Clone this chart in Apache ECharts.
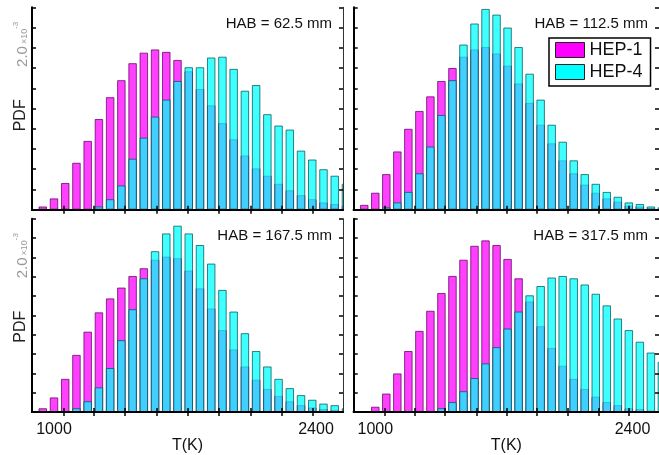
<!DOCTYPE html>
<html>
<head>
<meta charset="utf-8">
<script src="https://cdn.jsdelivr.net/npm/echarts@6/dist/echarts.min.js"></script>
<style>
  html, body { margin: 0; padding: 0; background: #fff; }
  #chart { width: 659px; height: 455px; }
</style>
</head>
<body>
<div id="chart"></div>
<script>
// bin centres, K
var binCenters = [940, 1000, 1060, 1120, 1180, 1240, 1300, 1360, 1420, 1480, 1540, 1600, 1660, 1720,
  1780, 1840, 1900, 1960, 2020, 2080, 2140, 2200, 2260, 2320, 2380, 2440, 2500, 2560];
var xTickValues = [1050, 1215, 1380, 1550, 1715, 1880, 2050, 2215, 2380];
var xLabelValues = [1000, 2400];
var panelTitles = ['HAB = 62.5 mm', 'HAB = 112.5 mm', 'HAB = 167.5 mm', 'HAB = 317.5 mm'];

// PDF values, x1e-3
var hep1_62 = [0.04, 0.14, 0.33, 0.58, 0.85, 1.12, 1.39, 1.60, 1.81, 1.94, 1.98, 1.95, 1.85, 1.71,
  1.49, 1.29, 1.07, 0.87, 0.67, 0.51, 0.42, 0.32, 0.24, 0.18, 0.13, 0.09, 0.07, 0.05];
var hep4_62 = [0, 0, 0, 0, 0, 0.04, 0.13, 0.30, 0.63, 0.89, 1.15, 1.36, 1.59, 1.76,
  1.76, 1.88, 1.89, 1.74, 1.47, 1.54, 1.18, 1.04, 0.99, 0.73, 0.62, 0.50, 0.42, 0.32];
var hep1_112 = [0.06, 0.21, 0.44, 0.72, 1.00, 1.22, 1.40, 1.59, 1.75, 1.89, 1.98, 2.01, 1.93, 1.78,
  1.56, 1.32, 1.05, 0.82, 0.61, 0.45, 0.31, 0.21, 0.14, 0.10, 0.05, 0.04, 0.02, 0.01];
var hep4_112 = [0, 0, 0.03, 0.09, 0.22, 0.45, 0.78, 1.17, 1.60, 2.04, 2.30, 2.48, 2.41, 2.25,
  2.01, 1.68, 1.36, 1.05, 0.84, 0.61, 0.44, 0.32, 0.22, 0.16, 0.09, 0.07, 0.04, 0.03];
var hep1_167 = [0.05, 0.19, 0.43, 0.74, 1.04, 1.29, 1.47, 1.61, 1.76, 1.86, 1.97, 2.01, 1.99, 1.83,
  1.60, 1.34, 1.06, 0.81, 0.59, 0.42, 0.30, 0.21, 0.14, 0.09, 0.06, 0.04, 0.03, 0.02];
var hep4_167 = [0, 0, 0, 0.05, 0.14, 0.32, 0.57, 0.93, 1.33, 1.73, 2.08, 2.31, 2.41, 2.31,
  2.16, 1.92, 1.58, 1.30, 1.02, 0.79, 0.59, 0.43, 0.31, 0.22, 0.16, 0.11, 0.09, 0.05];
var hep1_317 = [0, 0.07, 0.24, 0.50, 0.79, 1.05, 1.31, 1.54, 1.76, 1.97, 2.15, 2.22, 2.16, 1.98,
  1.73, 1.43, 1.11, 0.83, 0.60, 0.43, 0.30, 0.20, 0.13, 0.09, 0.05, 0.04, 0.02, 0.01];
var hep4_317 = [0, 0, 0, 0, 0, 0, 0, 0.05, 0.13, 0.27, 0.44, 0.63, 0.84, 1.08,
  1.30, 1.51, 1.63, 1.74, 1.76, 1.73, 1.65, 1.53, 1.38, 1.21, 1.06, 0.91, 0.77, 0.65];

var panels = [
  {hep1: hep1_62, hep4: hep4_62},
  {hep1: hep1_112, hep4: hep4_112},
  {hep1: hep1_167, hep4: hep4_167},
  {hep1: hep1_317, hep4: hep4_317}
];

var FONT = "'Liberation Sans', Arial, sans-serif";
var xMin = 882.5, xMax = 2544.2;
var gridPos = [
  {left: 32, top: 7.3},
  {left: 353.7, top: 7.3},
  {left: 32, top: 218.7},
  {left: 353.7, top: 218.7}
];

function pairs(vals){
  return binCenters.map(function(c, i){ return [c, vals[i]]; });
}

var grids = [], xAxes = [], yAxes = [], series = [], graphics = [];
gridPos.forEach(function(g, i){
  grids.push({left: g.left, top: g.top, width: 311, height: 202.4, show: false});
  var bottomRow = i >= 2;
  // bottom x
  xAxes.push({
    gridIndex: i, type: 'value', position: 'bottom', min: xMin, max: xMax, z: 5,
    axisLine: {lineStyle: {color: '#000', width: 2}},
    axisTick: {inside: true, length: 4, customValues: xTickValues, lineStyle: {color: '#000', width: 1.5}},
    axisLabel: {show: bottomRow, customValues: xLabelValues, margin: 9, fontSize: 16, color: '#111', fontFamily: FONT,
      formatter: function(v){ return String(v); }},
    splitLine: {show: false},
    name: bottomRow ? 'T(K)' : '', nameLocation: 'middle', nameGap: 9,
    nameTextStyle: {fontSize: 16, color: '#111', fontFamily: FONT, verticalAlign: 'top'}
  });
  // top x
  xAxes.push({
    gridIndex: i, type: 'value', position: 'top', min: xMin, max: xMax, z: 5,
    axisLine: {lineStyle: {color: '#000', width: 2}},
    axisTick: {inside: true, length: 4, customValues: xTickValues, lineStyle: {color: '#000', width: 1.5}},
    axisLabel: {show: false}, splitLine: {show: false}
  });
  yAxes.push({
    gridIndex: i, type: 'value', position: 'left', min: 0, max: 2.5, interval: 0.25, z: 5,
    axisLine: {show: true, lineStyle: {color: '#000', width: 2}},
    axisTick: {show: true, inside: true, length: 4, lineStyle: {color: '#000', width: 1.5}},
    axisLabel: {show: false}, splitLine: {show: false}
  });
  yAxes.push({
    gridIndex: i, type: 'value', position: 'right', min: 0, max: 2.5, interval: 0.25, z: 5,
    axisLine: {show: true, lineStyle: {color: '#333', width: 1}},
    axisTick: {show: true, inside: true, length: 4, lineStyle: {color: '#000', width: 1.5}},
    axisLabel: {show: false}, splitLine: {show: false}
  });
  series.push({
    name: 'HEP-1', type: 'bar', xAxisIndex: 2 * i, yAxisIndex: 2 * i, clip: true,
    barWidth: 8.5, barGap: '-100%', data: pairs(panels[i].hep1),
    itemStyle: {color: '#ff00ff', opacity: 0.75, borderColor: '#600060', borderWidth: 1},
    emphasis: {disabled: true}
  });
  series.push({
    name: 'HEP-4', type: 'bar', xAxisIndex: 2 * i, yAxisIndex: 2 * i, clip: true,
    barWidth: 8.5, barGap: '-100%', data: pairs(panels[i].hep4),
    itemStyle: {color: '#00ffff', opacity: 0.75, borderColor: '#005858', borderWidth: 1},
    emphasis: {disabled: true}
  });
  var right = i % 2 === 0 ? 332 : 648;
  graphics.push({
    type: 'text', x: right, y: g.top + 17, z: 10,
    style: {text: panelTitles[i], fill: '#111', font: '15px ' + FONT, align: 'right', verticalAlign: 'middle'}
  });
  if (i % 2 === 0) {
    // gap between columns: hide the bar that runs past the right border
    graphics.push({
      type: 'rect', z: 3, shape: {x: 344, y: g.top - 2, width: 8.5, height: 206},
      style: {fill: '#fff'}
    });
    graphics.push({
      type: 'text', x: 21, y: g.top + 108, rotation: Math.PI / 2, z: 10,
      style: {text: 'PDF', fill: '#222', font: '16px ' + FONT, align: 'center', verticalAlign: 'middle'}
    });
    graphics.push({
      type: 'text', x: 21, y: g.top + 37, rotation: Math.PI / 2, z: 10,
      style: {
        text: '{a|2.0}{b|×10}{c|-3}', align: 'center', verticalAlign: 'middle',
        rich: {
          a: {fontSize: 15, fontFamily: FONT, fill: '#999', lineHeight: 18, verticalAlign: 'bottom'},
          b: {fontSize: 9, fontFamily: FONT, fill: '#999', lineHeight: 18, verticalAlign: 'bottom', padding: [0, 0, 1, 2]},
          c: {fontSize: 8, fontFamily: FONT, fill: '#999', lineHeight: 18, verticalAlign: 'top'}
        }
      }
    });
  }
});

var chart = echarts.init(document.getElementById('chart'), null, {renderer: 'canvas'});
chart.setOption({
  animation: false,
  backgroundColor: '#fff',
  grid: grids,
  xAxis: xAxes,
  yAxis: yAxes,
  legend: {
    orient: 'vertical', left: 549, top: 38,
    padding: [3, 8, 5, 6], itemGap: 4, itemWidth: 29, itemHeight: 15,
    backgroundColor: '#fff', borderColor: '#000', borderWidth: 1.5,
    itemStyle: {opacity: 1, borderColor: '#222', borderWidth: 1},
    textStyle: {fontSize: 18, color: '#111', fontFamily: FONT, padding: [0, 0, 0, 0]},
    selectedMode: false,
    data: [
      {name: 'HEP-1', icon: 'rect', itemStyle: {color: '#ff00ff', opacity: 1}},
      {name: 'HEP-4', icon: 'rect', itemStyle: {color: '#00ffff', opacity: 1}}
    ]
  },
  graphic: graphics,
  series: series
});
</script>
</body>
</html>
